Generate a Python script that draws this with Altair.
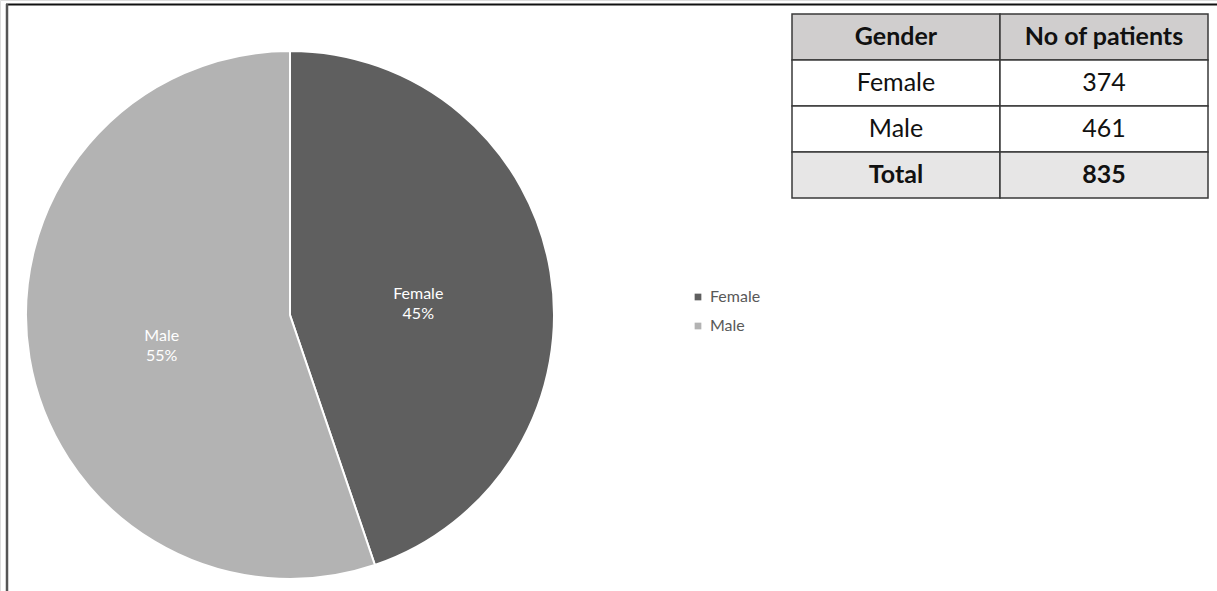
import altair as alt
import pandas as pd

# ---- data ----
genders = ["Female", "Male"]
patients = [374, 461]
pie_colors = ["#5f5f5f", "#b3b3b3"]

table_header = ["Gender", "No of patients"]
table_rows = ["Female", "Male", "Total"]
table_counts = ["374", "461", "835"]

W, H = 1217, 591
total = sum(patients)

pie_df = pd.DataFrame({
    "gender": genders,
    "count": patients,
    "order": list(range(len(genders))),
})
pie_df["label"] = [f"{g}\n{round(c / total * 100)}%" for g, c in zip(genders, patients)]

color_scale = alt.Scale(domain=genders, range=pie_colors)

pie = alt.Chart(pie_df).mark_arc(stroke="white", strokeWidth=2).encode(
    theta=alt.Theta("count:Q", stack=True),
    order=alt.Order("order:Q"),
    color=alt.Color(
        "gender:N", scale=color_scale,
        legend=alt.Legend(
            title=None, orient="none", legendX=690, legendY=289,
            symbolType="square", symbolSize=45, labelFontSize=16,
            labelColor="#595959", labelFont="Lato", rowPadding=13,
            symbolStrokeWidth=0, labelOffset=4,
        ),
    ),
    x=alt.value(290), y=alt.value(315),
    radius=alt.value(264),
)

pie_text = alt.Chart(pie_df).mark_text(
    fontSize=16, font="Lato", color="white", lineBreak="\n",
    align="center", baseline="middle", lineHeight=20,
).encode(
    theta=alt.Theta("count:Q", stack=True),
    order=alt.Order("order:Q"),
    text="label:N",
    x=alt.value(290), y=alt.value(315),
    radius=alt.value(130),
)

# ---- table ----
rows_all = ["header"] + table_rows
cells = []
for i, r in enumerate(rows_all):
    if i == 0:
        vals = table_header
        bg = "#d0cece"
        bold = "bold"
    else:
        vals = [table_rows[i - 1], table_counts[i - 1]]
        bg = "#e7e6e6" if table_rows[i - 1] == "Total" else "#ffffff"
        bold = "bold" if table_rows[i - 1] == "Total" else "normal"
    for c, v in zip(["c0", "c1"], vals):
        cells.append({"row": r, "col": c, "text": v, "bg": bg, "weight": bold})
tab_df = pd.DataFrame(cells)

def xs():
    return alt.Scale(domain=["c0", "c1"], range=[792, 1208], paddingInner=0, paddingOuter=0)

def ys():
    return alt.Scale(domain=rows_all, range=[14, 198], paddingInner=0, paddingOuter=0)

tab_rect = alt.Chart(tab_df).mark_rect(stroke="#3a3a3a", strokeWidth=1.5).encode(
    x=alt.X("col:N", scale=xs(), axis=None),
    y=alt.Y("row:N", scale=ys(), axis=None),
    fill=alt.Fill("bg:N", scale=None),
)

def tab_text(weight):
    return alt.Chart(tab_df).transform_filter(alt.datum.weight == weight).mark_text(
        fontSize=25, font="Lato", fontWeight=weight, color="#111111",
        align="center", baseline="middle",
    ).encode(
        x=alt.X("col:N", scale=xs(), axis=None, bandPosition=0.5),
        y=alt.Y("row:N", scale=ys(), axis=None, bandPosition=0.5),
        text="text:N",
    )

# ---- figure frame ----
frame_df = pd.DataFrame({"k": [0]})
top_line = alt.Chart(frame_df).mark_rule(color="#111111", strokeWidth=2).encode(
    x=alt.value(6), x2=alt.value(W), y=alt.value(4.5),
)
left_line = alt.Chart(frame_df).mark_rule(color="#555555", strokeWidth=2.5).encode(
    x=alt.value(7), y=alt.value(4), y2=alt.value(H),
)

chart = alt.layer(
    pie, pie_text, tab_rect, tab_text("normal"), tab_text("bold"), top_line, left_line
).resolve_scale(x="shared", y="shared").properties(
    width=W, height=H, padding=0, autosize=alt.AutoSizeParams(type="none"),
).configure_view(stroke=None).configure(background="white")

chart.save("out.html", embed_options={"renderer": "svg", "actions": False})
